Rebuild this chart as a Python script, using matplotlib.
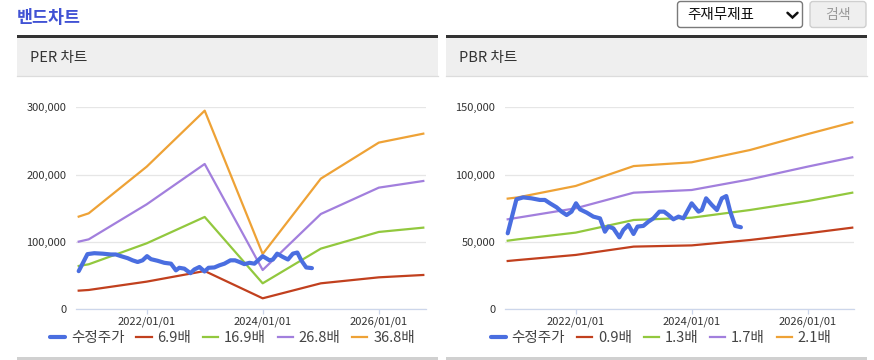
import matplotlib
matplotlib.use('Agg')
import matplotlib.pyplot as plt
import matplotlib.dates as mdates
from matplotlib.patches import Rectangle, FancyBboxPatch
from matplotlib.ticker import FuncFormatter, FixedLocator
import pandas as pd

plt.rcParams['font.family'] = ['Noto Sans CJK KR', 'DejaVu Sans']

# ---------------- data ----------------
band_dates = ['2020-10-30', '2021-01-01', '2022-01-01', '2023-01-01',
              '2024-01-01', '2025-01-01', '2026-01-01', '2026-10-08']

per_labels = ['6.9배', '16.9배', '26.8배', '36.8배']
per_6_9 = [27300, 28300, 40700, 56500, 15900, 38200, 47100, 50600]
per_16_9 = [64000, 66500, 97700, 136900, 38200, 89800, 114600, 121000]
per_26_8 = [100200, 103600, 155700, 215700, 58000, 141300, 180500, 190400]
per_36_8 = [137400, 142300, 211700, 295000, 81800, 193900, 247500, 260800]

pbr_labels = ['0.9배', '1.3배', '1.7배', '2.1배']
pbr_0_9 = [35700, 36400, 40200, 46400, 47300, 51300, 56300, 60500]
pbr_1_3 = [50800, 51800, 56800, 66200, 67900, 73600, 80300, 86500]
pbr_1_7 = [66700, 67900, 74900, 86500, 88500, 96400, 105900, 112800]
pbr_2_1 = [82100, 83000, 91500, 106300, 109100, 118200, 130100, 138800]

price_label = '수정주가'
price_dates = ['2020-10-30', '2020-12-24', '2021-02-05', '2021-03-29', '2021-05-20',
               '2021-06-21', '2021-07-23', '2021-09-03', '2021-10-04', '2021-11-05',
               '2021-12-06', '2022-01-03', '2022-01-28', '2022-03-11', '2022-04-22',
               '2022-06-03', '2022-07-04', '2022-07-25', '2022-08-26', '2022-10-03',
               '2022-10-28', '2022-11-29', '2022-12-31', '2023-01-25', '2023-03-03',
               '2023-04-04', '2023-05-05', '2023-06-12', '2023-07-11', '2023-08-08',
               '2023-09-08', '2023-10-10', '2023-11-10', '2024-01-01', '2024-02-13',
               '2024-03-05', '2024-04-01', '2024-05-07', '2024-06-08', '2024-07-09',
               '2024-08-06', '2024-08-31', '2024-10-01', '2024-11-06']
price_values = [56300, 81600, 83000, 82300, 81100, 81100, 78600, 75600, 72400, 69900,
                72400, 78600, 74100, 71700, 68700, 67400, 57500, 61300, 60000, 53300,
                58800, 62500, 55800, 61300, 61800, 65000, 67400, 72400, 72400, 69900,
                66700, 68700, 67400, 78600, 72400, 73600, 82300, 77400, 73600, 82300,
                84000, 72400, 61800, 60800]

x_ticks = ['2022-01-01', '2024-01-01', '2026-01-01']
per_yticks = [0, 100000, 200000, 300000]
pbr_yticks = [0, 50000, 100000, 150000]

# ---------------- style ----------------
W, H = 874, 360
band_colors = ['#c1401e', '#92c83e', '#a27fdd', '#eea236']
price_color = '#4a6ee0'
txt = '#333333'

fig = plt.figure(figsize=(W / 100, H / 100), dpi=100)
fig.patch.set_facecolor('white')

bg = fig.add_axes([0, 0, 1, 1])
bg.set_xlim(0, W)
bg.set_ylim(H, 0)
bg.axis('off')

bg.text(17, 18, '밴드차트', color='#4152d4', fontsize=12.5, fontweight='bold',
        va='center', ha='left')
bg.add_patch(FancyBboxPatch((677.5, 1.5), 125, 26, boxstyle='round,pad=0,rounding_size=3',
                            fc='white', ec='#7a7a7a', lw=1))
bg.text(687, 15, '주재무제표', fontsize=10.5, va='center', ha='left', color='#111111')
bg.plot([787.5, 792.5, 797.5], [12.8, 17.5, 12.8], color='#111111', lw=1.8,
        solid_capstyle='round', solid_joinstyle='miter')
bg.add_patch(FancyBboxPatch((810, 1.5), 56, 26, boxstyle='round,pad=0,rounding_size=3',
                            fc='#efefef', ec='#cfcfcf', lw=1))
bg.text(838, 15, '검색', fontsize=10, va='center', ha='center', color='#999999')

for x0, x1, label in [(17, 438, 'PER 차트'), (446, 867, 'PBR 차트')]:
    bg.add_patch(Rectangle((x0, 37.7), x1 - x0, 38.3, fc='#efefef', ec='none'))
    bg.add_patch(Rectangle((x0, 35.4), x1 - x0, 2.4, fc='#333333', ec='none'))
    bg.plot([x0, x1], [76, 76], color='#dcdcdc', lw=0.9)
    bg.add_patch(Rectangle((x0, 357), x1 - x0, 3, fc='#d0d0d0', ec='none'))
    bg.text(x0 + 13, 58, label, fontsize=10.5, va='center', ha='left', color=txt)


def px_rect(x0, x1, ytop, ybot):
    return [x0 / W, 1 - ybot / H, (x1 - x0) / W, (ybot - ytop) / H]


def style_axis(ax, yticks, xlim):
    ax.set_facecolor('none')
    ax.set_ylim(yticks[0], yticks[-1])
    ax.set_xlim(pd.Timestamp(xlim[0]), pd.Timestamp(xlim[1]))
    for s in ['top', 'right', 'left']:
        ax.spines[s].set_visible(False)
    ax.spines['bottom'].set_color('#ccd6eb')
    ax.spines['bottom'].set_linewidth(0.9)
    ax.yaxis.set_major_locator(FixedLocator(yticks))
    ax.yaxis.set_major_formatter(FuncFormatter(lambda v, p: f'{int(v):,}'))
    ax.grid(axis='y', color='#e6e6e6', lw=0.9)
    ax.set_axisbelow(True)
    ax.tick_params(axis='y', length=0, pad=7, labelsize=8, labelcolor=txt)
    ax.set_xticks([pd.Timestamp(d) for d in x_ticks])
    ax.xaxis.set_major_formatter(mdates.DateFormatter('%Y/%m/%d'))
    ax.tick_params(axis='x', length=3.6, width=0.9, color='#ccd6eb', pad=2,
                   labelsize=8, labelcolor=txt)


def draw(ax, bands, labels, yticks, xlim, legend_cx):
    bd = pd.to_datetime(band_dates)
    pd_ = pd.to_datetime(price_dates)
    hp, = ax.plot(pd_, price_values, color=price_color, lw=3.0, zorder=5,
                  solid_joinstyle='round', solid_capstyle='round', label=price_label)
    handles = [hp]
    for vals, c, lab in zip(bands, band_colors, labels):
        h, = ax.plot(bd, vals, color=c, lw=1.6, zorder=3, label=lab)
        handles.append(h)
    style_axis(ax, yticks, xlim)
    ax.legend(handles=handles, loc='center', bbox_to_anchor=(legend_cx, 338),
              bbox_transform=bg.transData, ncol=5, frameon=False, fontsize=10.5,
              handlelength=1.05, handletextpad=0.4, columnspacing=0.8,
              labelcolor='#444444', borderpad=0)


ax1 = fig.add_axes(px_rect(76, 426, 107.3, 309))
draw(ax1, [per_6_9, per_16_9, per_26_8, per_36_8], per_labels, per_yticks,
     ('2020-10-13', '2026-10-25'), 232.5)

ax2 = fig.add_axes(px_rect(505, 854, 107.3, 309))
draw(ax2, [pbr_0_9, pbr_1_3, pbr_1_7, pbr_2_1], pbr_labels, pbr_yticks,
     ('2020-10-13', '2026-10-19'), 661)

fig.savefig('out.png', dpi=100)
